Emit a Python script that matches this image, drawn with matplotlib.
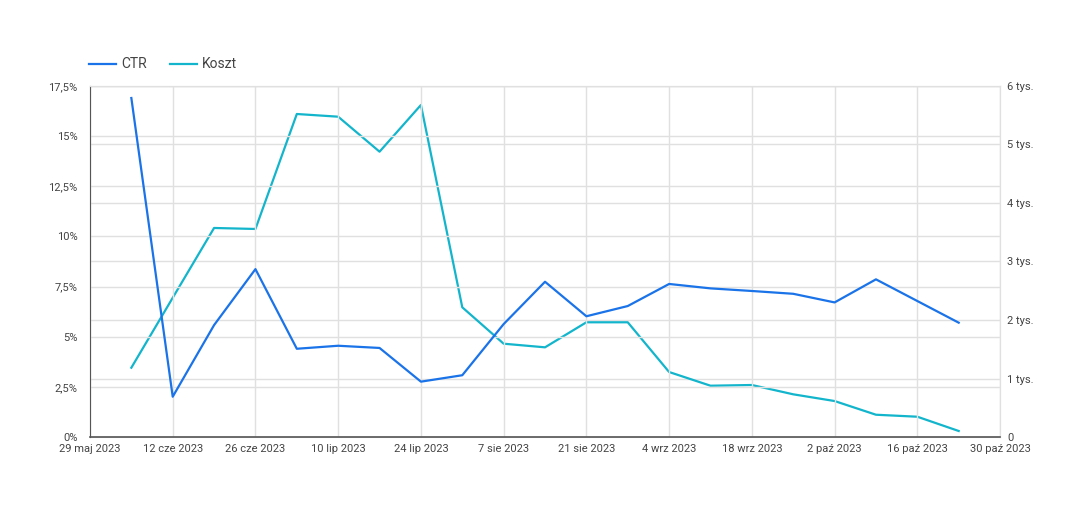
import datetime as dt
import matplotlib
matplotlib.use("Agg")
import matplotlib.pyplot as plt
from matplotlib.ticker import FuncFormatter, MultipleLocator

plt.rcParams['font.family'] = ['Roboto', 'DejaVu Sans']

# weekly data points, 5 Jun 2023 .. 23 Oct 2023
start = dt.date(2023, 6, 5)
weeks = [start + dt.timedelta(days=7 * i) for i in range(21)]

ctr = [16.90, 2.01, 5.58, 8.37, 4.40, 4.55, 4.44, 2.76, 3.08, 5.63, 7.74,
       6.02, 6.53, 7.63, 7.41, 7.28, 7.14, 6.71, 7.86, 6.78, 5.70]
koszt = [1185, 2380, 3573, 3556, 5521, 5475, 4877, 5675, 2217, 1595, 1533,
         1961, 1961, 1111, 877, 889, 730, 615, 381, 347, 103]

tick_dates = [dt.date(2023, 5, 29) + dt.timedelta(days=14 * i) for i in range(12)]
tick_labels = ["29 maj 2023", "12 cze 2023", "26 cze 2023", "10 lip 2023",
               "24 lip 2023", "7 sie 2023", "21 sie 2023", "4 wrz 2023",
               "18 wrz 2023", "2 paź 2023", "16 paź 2023", "30 paź 2023"]

blue = "#1a73e8"
cyan = "#12b5cb"
grid = "#e0e0e0"
txt = "#444444"

fig = plt.figure(figsize=(10.92, 5.17), dpi=100)
ax = fig.add_axes([0.0824, 0.1547, 0.8334, 0.679])
ax2 = ax.twinx()

l1, = ax.plot(weeks, ctr, color=blue, lw=1.6, zorder=3, label="CTR")
l2, = ax2.plot(weeks, koszt, color=cyan, lw=1.6, zorder=3, label="Koszt")

ax.set_xlim(tick_dates[0], tick_dates[-1])
ax.set_xticks(tick_dates)
ax.set_xticklabels(tick_labels)

ax.set_ylim(0, 17.5)
ax.yaxis.set_major_locator(MultipleLocator(2.5))
ax.yaxis.set_major_formatter(FuncFormatter(
    lambda v, p: ("%g" % v).replace(".", ",") + "%"))

ax2.set_ylim(0, 6000)
ax2.yaxis.set_major_locator(MultipleLocator(1000))
ax2.yaxis.set_major_formatter(FuncFormatter(
    lambda v, p: "0" if v == 0 else "%d tys." % (v / 1000)))

ax.grid(True, color=grid, lw=1)
ax.set_axisbelow(True)
ax.set_zorder(ax2.get_zorder() + 1)
ax.patch.set_visible(False)
# right-axis horizontal gridlines drawn on ax2 (behind)
for y in range(0, 6001, 1000):
    ax2.axhline(y, color=grid, lw=1, zorder=0)

for a in (ax, ax2):
    a.tick_params(length=0, colors=txt, labelsize=8)
    for s in a.spines.values():
        s.set_color(grid)
ax.spines['left'].set_color("#555555")
ax.spines['bottom'].set_color("#555555")
ax.spines['bottom'].set_linewidth(1.2)
ax.tick_params(axis='y', pad=9)
ax.tick_params(axis='x', pad=5)
ax2.tick_params(axis='y', pad=5)

leg = fig.legend(handles=[l1, l2], loc="upper left", bbox_to_anchor=(0.0696, 0.913),
                 ncol=2, frameon=False, fontsize=10, handlelength=2.0,
                 columnspacing=1.65, handletextpad=0.35, labelcolor=txt)

fig.savefig("out.png", dpi=100)
